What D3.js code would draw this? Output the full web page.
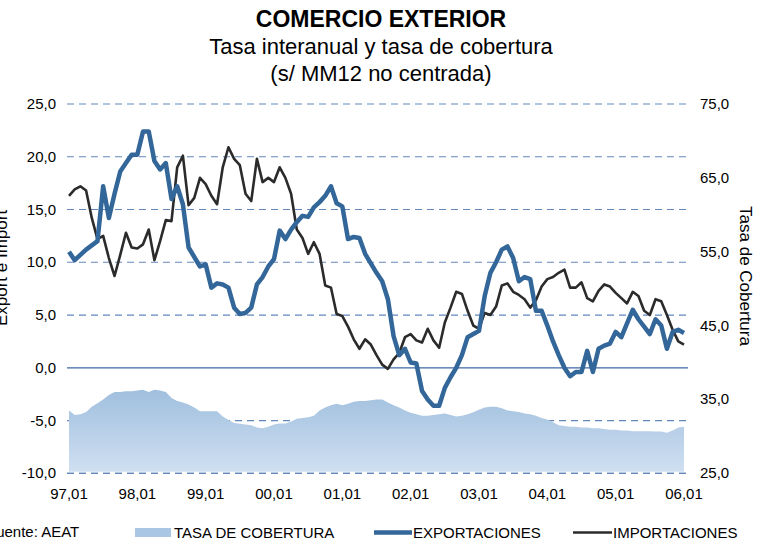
<!DOCTYPE html>
<html><head><meta charset="utf-8">
<script src="https://cdn.jsdelivr.net/npm/d3@7"></script>
<style>
body{margin:0;background:#fff}
svg{display:block;font-family:"Liberation Sans",Arial,sans-serif}
</style>
</head><body>
<svg id="c" width="757" height="541"></svg>
<script>
const exportaciones = [11.0,10.2,10.7,11.2,11.6,12.0,17.2,14.2,16.5,18.6,19.4,20.2,20.2,22.4,22.4,19.6,18.8,19.4,16.0,17.2,
15.5,11.4,10.5,9.6,9.8,7.6,8.0,7.9,7.6,5.7,5.1,5.2,5.7,7.9,8.6,9.6,10.3,13.0,12.2,13.1,
13.8,14.4,14.3,15.2,15.7,16.3,17.2,15.6,15.3,12.2,12.4,12.3,10.8,9.9,9.0,8.2,6.5,3.0,1.2,1.8,
0.5,0.4,-2.2,-3.0,-3.6,-3.6,-1.9,-0.9,0.0,1.2,2.9,3.2,3.5,6.8,9.0,10.0,11.2,11.5,10.4,8.2,
8.6,8.4,5.4,5.4,4.0,2.5,1.2,0.0,-0.8,-0.4,-0.4,1.6,-0.4,1.8,2.1,2.3,3.4,2.9,4.2,5.5,
4.6,3.9,3.2,4.6,4.0,1.8,3.4,3.6,3.3];
const importaciones = [16.3,16.9,17.2,16.8,14.2,12.2,12.5,10.4,8.7,10.7,12.8,11.4,11.3,11.7,13.1,10.2,12.0,14.0,13.9,19.0,
20.1,15.4,16.1,18.0,17.4,16.3,15.5,19.0,20.9,19.8,19.2,16.5,15.8,19.8,17.6,18.0,17.6,19.0,18.0,16.5,
13.1,12.3,10.8,11.9,10.8,7.8,7.6,5.1,4.9,3.9,2.7,1.8,2.7,2.2,1.2,0.3,-0.1,0.8,1.4,2.9,
3.2,2.6,2.4,3.7,2.6,1.9,4.3,5.7,7.2,7.0,5.4,4.0,3.7,5.2,5.0,5.8,7.8,8.0,7.2,6.9,
6.5,5.7,6.4,7.7,8.4,8.6,9.0,9.3,7.6,7.6,8.1,6.6,6.3,7.3,7.9,7.7,7.1,6.6,6.1,7.2,
6.8,5.4,5.0,6.5,6.3,5.0,3.6,2.5,2.2];
const cobertura = [33.5,32.9,33.0,33.3,34.0,34.5,35.0,35.6,36.0,36.0,36.1,36.1,36.2,36.3,36.0,36.3,36.2,36.0,35.2,34.8,
34.6,34.3,33.9,33.4,33.4,33.4,33.4,32.7,32.2,31.8,31.7,31.6,31.5,31.2,31.1,31.3,31.6,31.75,31.75,32.0,
32.4,32.5,32.6,32.8,33.5,33.9,34.2,34.4,34.2,34.4,34.7,34.8,34.8,34.9,35.0,35.0,34.6,34.2,33.9,33.5,
33.2,33.0,32.8,32.8,32.9,33.0,33.1,32.9,32.7,32.8,33.0,33.25,33.6,33.9,34.0,34.0,33.8,33.5,33.4,33.3,
33.1,33.0,32.8,32.5,32.3,31.9,31.5,31.4,31.3,31.3,31.2,31.2,31.1,31.1,31.0,30.9,30.9,30.8,30.8,30.7,
30.7,30.7,30.7,30.65,30.65,30.5,30.8,31.2,31.3];
const tickLabels = ["97,01","98,01","99,01","00,01","01,01","02,01","03,01","04,01","05,01","06,01"];
const leftTicks = [25,20,15,10,5,0,-5,-10];
const rightTicks = [75,65,55,45,35,25];
const titleLines = ["COMERCIO EXTERIOR","Tasa interanual y tasa de cobertura","(s/ MM12 no centrada)"];
const legendItems = ["TASA DE COBERTURA","EXPORTACIONES","IMPORTACIONES"];

const svg = d3.select("#c");
const n = exportaciones.length;
const x = d3.scaleLinear().domain([0, n-1]).range([69, 684]);
const yL = d3.scaleLinear().domain([-10, 25]).range([473.3, 104]);
const yR = d3.scaleLinear().domain([25, 75]).range([473.3, 104]);
const fmt = v => v.toFixed(1).replace(".", ",");

const defs = svg.append("defs");
const grad = defs.append("linearGradient").attr("id","ag")
  .attr("gradientUnits","userSpaceOnUse").attr("x1",0).attr("x2",0).attr("y1",yR(37)).attr("y2",yR(25));
grad.append("stop").attr("offset","0%").attr("stop-color","#9dbddd");
grad.append("stop").attr("offset","100%").attr("stop-color","#d0e0f1");

// title
svg.append("g").selectAll("text").data(titleLines).join("text")
  .attr("x", 381).attr("y", (d,i)=> 27 + i*27)
  .attr("text-anchor","middle")
  .attr("font-size",(d,i)=> i===0 ? 23 : 22)
  .attr("font-weight",(d,i)=> i===0 ? "bold" : "normal")
  .attr("fill","#000").text(d=>d);

// gridlines
const grid = svg.append("g");
grid.selectAll("line").data(leftTicks.filter(v=>v!==0)).join("line")
  .attr("x1",67).attr("x2",688).attr("y1",d=>yL(d)).attr("y2",d=>yL(d))
  .attr("stroke","#6388bb").attr("stroke-width",1.2).attr("stroke-dasharray","7,5");

// area
const area = d3.area().x((d,i)=>x(i)).y0(yR(25)-1.5).y1(d=>yR(d));
svg.append("path").datum(cobertura).attr("d",area).attr("fill","url(#ag)");

// bottom gridline again on top
svg.append("line").attr("x1",67).attr("x2",688).attr("y1",yL(-10)).attr("y2",yL(-10))
  .attr("stroke","#6388bb").attr("stroke-width",1.2).attr("stroke-dasharray","7,5");
// zero line
svg.append("line").attr("x1",67).attr("x2",688).attr("y1",yL(0)).attr("y2",yL(0))
  .attr("stroke","#3d68a3").attr("stroke-width",1.2);

// lines
const lineL = d3.line().x((d,i)=>x(i)).y(d=>yL(d));
svg.append("path").datum(importaciones).attr("d",lineL).attr("fill","none")
  .attr("stroke","#2b2b2b").attr("stroke-width",2.6).attr("stroke-linejoin","round");
svg.append("path").datum(exportaciones).attr("d",lineL).attr("fill","none")
  .attr("stroke","#336699").attr("stroke-width",4.5).attr("stroke-linejoin","round");

// left axis labels
svg.append("g").selectAll("text").data(leftTicks).join("text")
  .attr("x",56).attr("y",d=>yL(d)+5).attr("text-anchor","end")
  .attr("font-size",15).attr("fill","#000").text(fmt);
// right axis labels
svg.append("g").selectAll("text").data(rightTicks).join("text")
  .attr("x",700).attr("y",d=>yR(d)+5).attr("text-anchor","start")
  .attr("font-size",15).attr("fill","#000").text(fmt);
// x labels
svg.append("g").selectAll("text").data(tickLabels).join("text")
  .attr("x",(d,i)=>x(i*12)).attr("y",499).attr("text-anchor","middle")
  .attr("font-size",15).attr("fill","#000").text(d=>d);

// axis titles
svg.append("text").attr("transform","translate(7,268) rotate(-90)")
  .attr("text-anchor","middle").attr("font-size",17).text("Export e Import");
svg.append("text").attr("transform","translate(740,276) rotate(90)")
  .attr("text-anchor","middle").attr("font-size",17).text("Tasa de Cobertura");

// legend / source
svg.append("text").attr("x",-13).attr("y",537).attr("font-size",15).text("Fuente: AEAT");
const lg = svg.append("g");
const lx = [135, 374, 573];
const tx = [174, 413, 613];
lg.append("rect").attr("x",lx[0]).attr("y",528).attr("width",36).attr("height",9).attr("fill","#a9c6e4");
lg.append("line").attr("x1",lx[1]).attr("x2",lx[1]+38).attr("y1",532.5).attr("y2",532.5)
  .attr("stroke","#336699").attr("stroke-width",4.5);
lg.append("line").attr("x1",lx[2]).attr("x2",lx[2]+39).attr("y1",532.5).attr("y2",532.5)
  .attr("stroke","#2b2b2b").attr("stroke-width",2.6);
lg.selectAll("text").data(legendItems).join("text")
  .attr("x",(d,i)=>tx[i]).attr("y",538).attr("font-size",15).text(d=>d);
</script>
</body></html>
